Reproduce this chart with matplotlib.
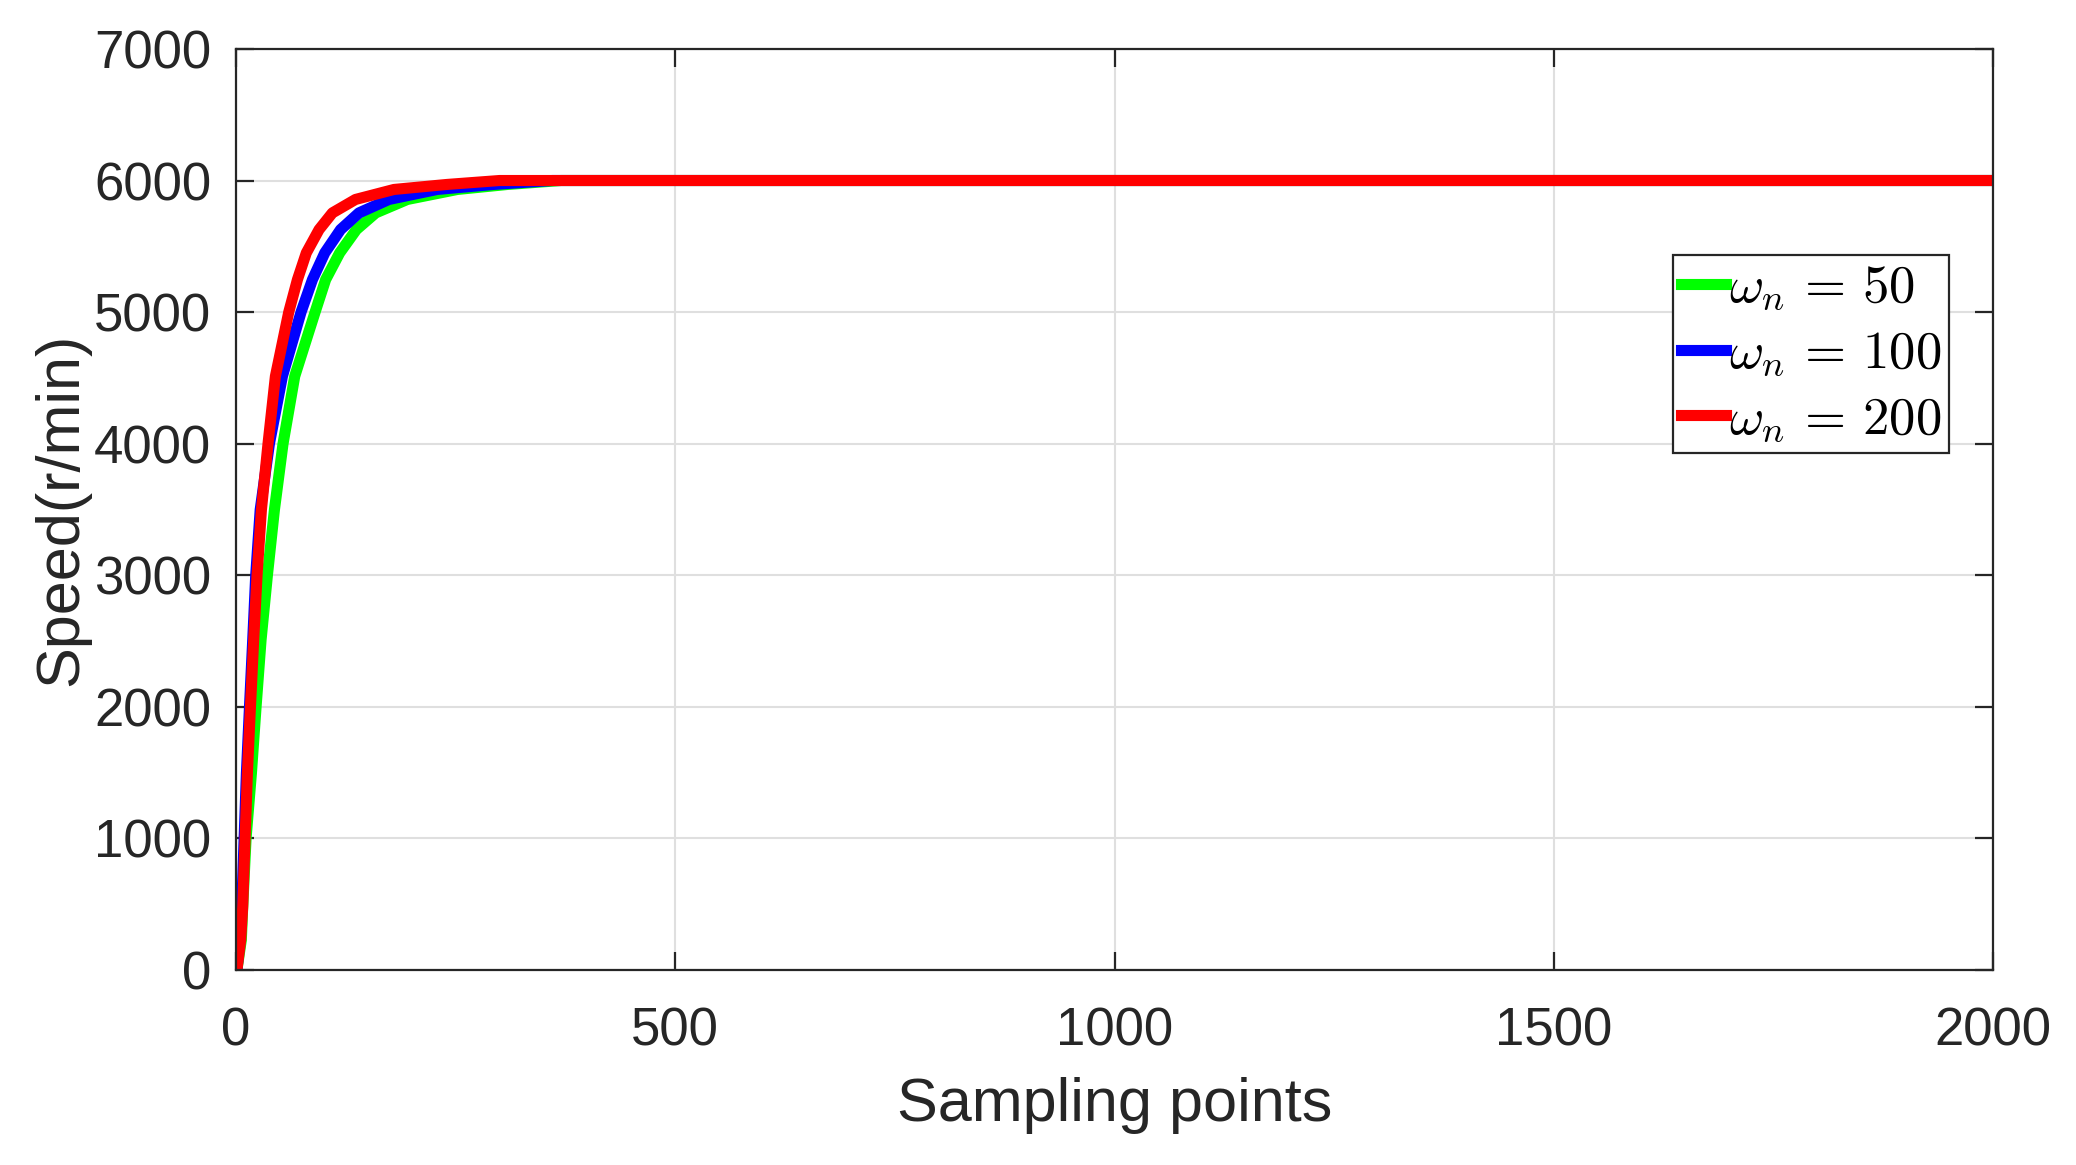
import matplotlib.pyplot as plt

# points (sampling index, speed in r/min)
x_50 = [1, 6, 7.6, 11.4, 17.5, 22.8, 28.5, 35.7, 43.7, 53.5, 66.8, 90, 102, 118,
        137, 159, 195, 252, 309, 370, 2000]
y_50 = [0, 228, 482, 1000, 1495, 2000, 2510, 3000, 3498, 4000, 4512, 5000, 5247, 5450,
        5627, 5754, 5856, 5932, 5970, 6000, 6000]

x_100 = [1, 4.2, 6.5, 9.2, 11.8, 15.3, 19, 22.4, 27.5, 38, 52.8, 74, 87, 101,
         119, 140, 174, 229, 293, 360, 2000]
y_100 = [0, 228, 482, 1000, 1495, 2000, 2510, 3000, 3498, 4000, 4512, 5000, 5247, 5450,
         5627, 5754, 5856, 5932, 5970, 6000, 6000]

x_200 = [1, 5.3, 7.6, 10.3, 12.9, 16.4, 20.1, 23.9, 28.9, 36.4, 44.8, 60, 69.9, 80,
         94.5, 109.7, 136, 179.8, 240, 300, 2000]
y_200 = [0, 228, 482, 1000, 1495, 2000, 2510, 3000, 3498, 4000, 4512, 5000, 5247, 5450,
         5627, 5754, 5856, 5932, 5970, 6000, 6000]

labels = [r"$\omega_n\,=\,50$", r"$\omega_n\,=\,100$", r"$\omega_n\,=\,200$"]
xticks = [0, 500, 1000, 1500, 2000]
yticks = [0, 1000, 2000, 3000, 4000, 5000, 6000, 7000]

plt.rcParams["font.family"] = ["Liberation Sans", "DejaVu Sans"]
plt.rcParams["mathtext.fontset"] = "cm"

fig = plt.figure(figsize=(20.76, 11.65), dpi=100)
ax = fig.add_axes([0.1137, 0.1674, 0.8463, 0.7906])

lw = 8
ax.plot(x_50, y_50, color="#00ff00", linewidth=lw, solid_joinstyle="round", label=labels[0])
ax.plot(x_100, y_100, color="#0000ff", linewidth=lw, solid_joinstyle="round", label=labels[1])
ax.plot(x_200, y_200, color="#ff0000", linewidth=lw, solid_joinstyle="round", label=labels[2])

ax.set_xlim(0, 2000)
ax.set_ylim(0, 7000)
ax.set_xticks(xticks)
ax.set_yticks(yticks)

ax.grid(True, color="#dfdfdf", linewidth=1.5)
ax.set_axisbelow(True)
for s in ax.spines.values():
    s.set_color("#262626")
    s.set_linewidth(1.6)

ax.tick_params(direction="in", length=13, width=1.6, colors="#262626",
               labelsize=38, top=True, right=True)
ax.tick_params(axis="x", pad=26)
ax.tick_params(axis="y", pad=18)
ax.set_xlabel("Sampling points", fontsize=44, color="#262626", labelpad=15)
ax.set_ylabel("Speed(r/min)", fontsize=44, color="#262626", labelpad=3)

leg = ax.legend(loc="upper left", bbox_to_anchor=(0.818, 0.776), borderaxespad=0,
                fontsize=38, handlelength=0.85, handletextpad=0.05,
                labelspacing=0.3, borderpad=0.15, fancybox=False,
                framealpha=1, edgecolor="#262626")
leg.get_frame().set_linewidth(1.6)

fig.savefig("out.png", dpi=100)
